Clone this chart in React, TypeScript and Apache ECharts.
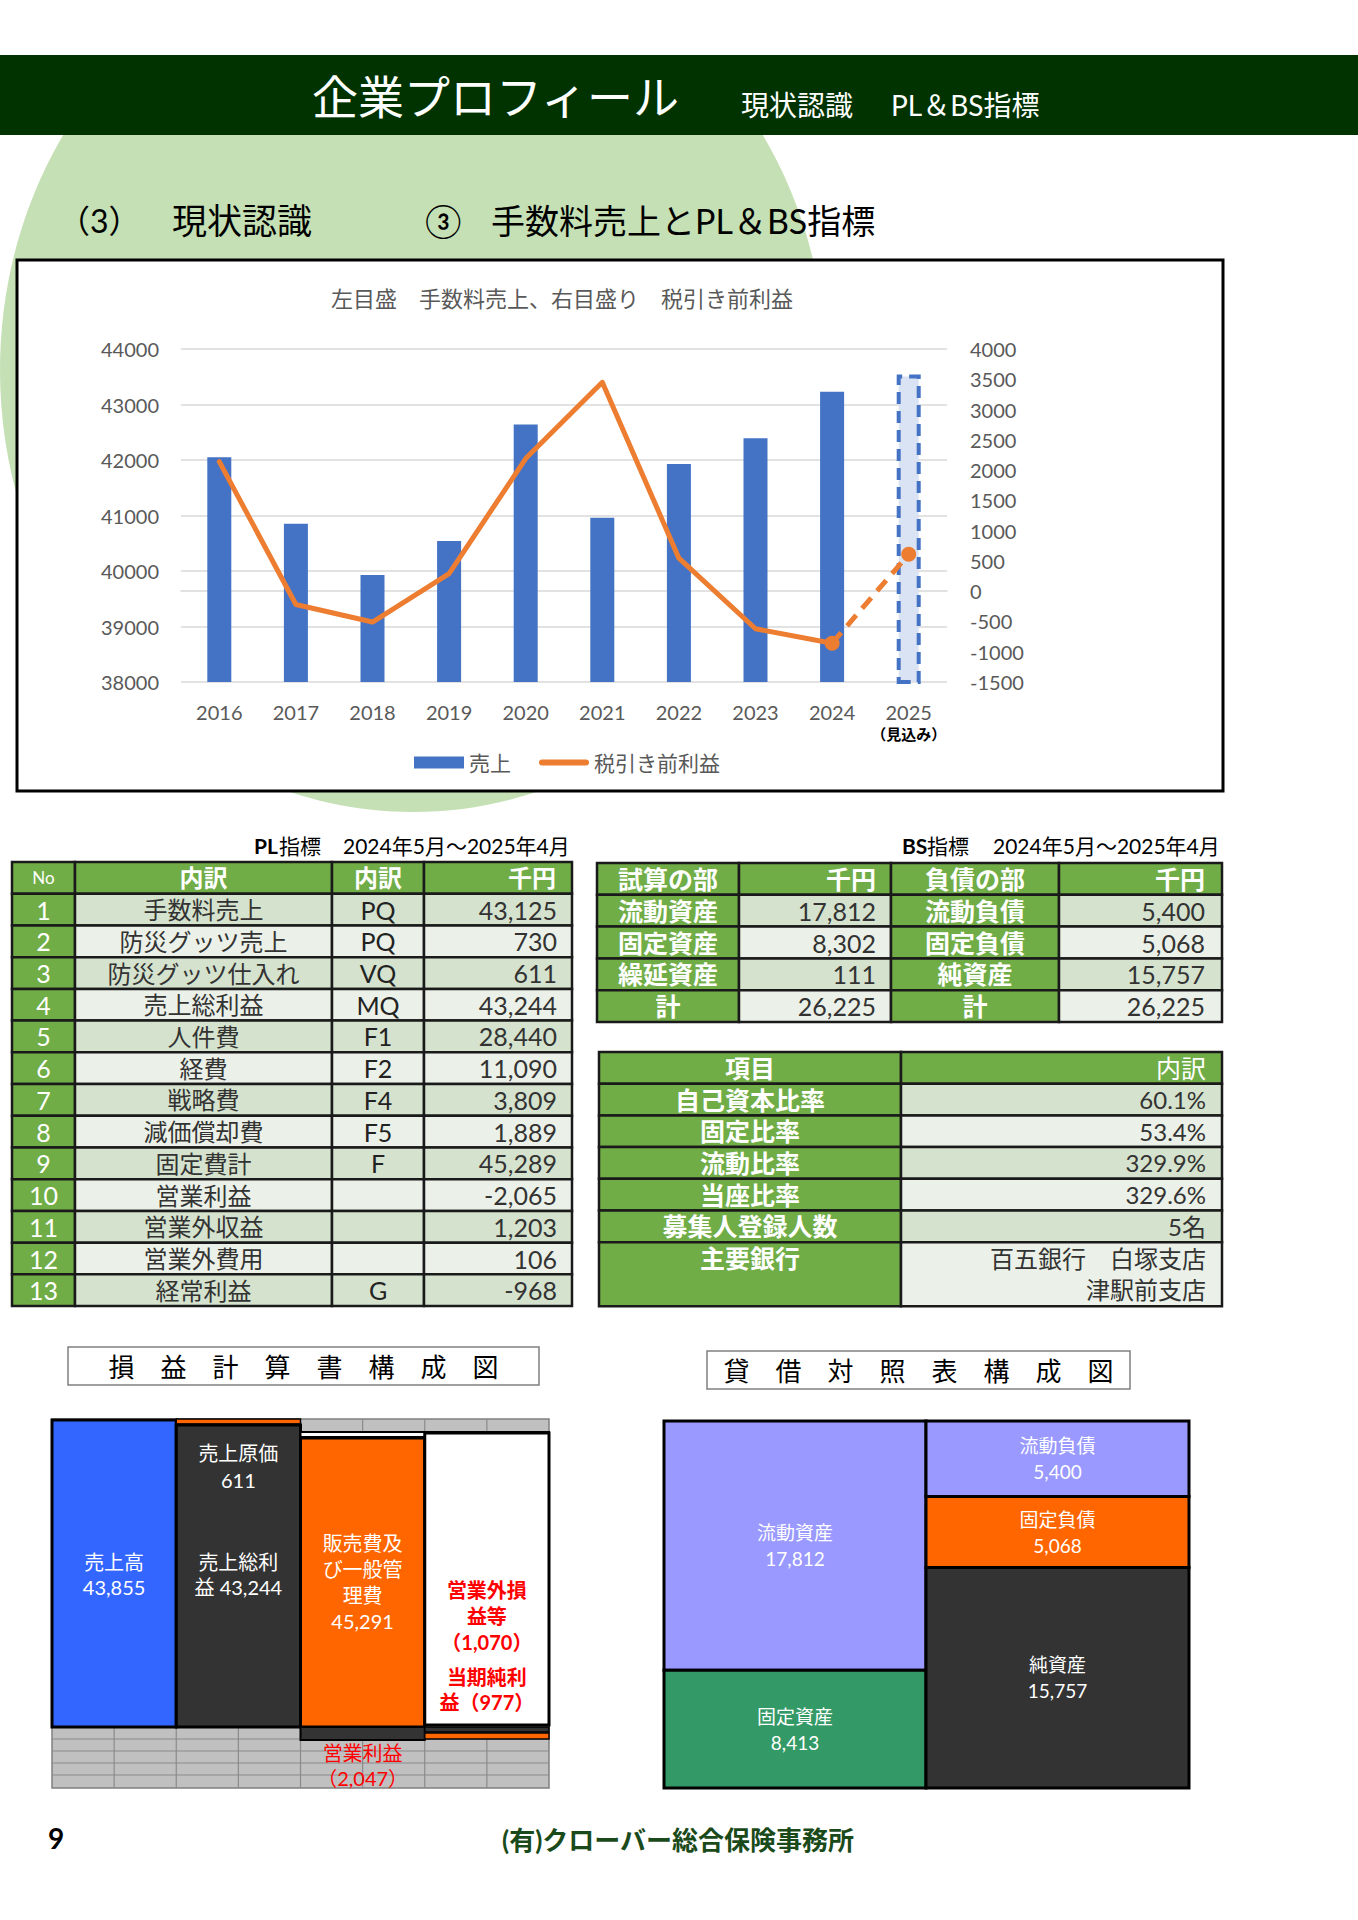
import React, { useEffect, useRef } from 'react';
import * as echarts from 'echarts';

const JP = 'Lato, "Noto Sans CJK JP", sans-serif';

// ---------- chart data ----------
const years = ['2016', '2017', '2018', '2019', '2020', '2021', '2022', '2023', '2024', '2025'];
const forecastNote = '（見込み）';
const sales = [42050, 40850, 39930, 40540, 42640, 40960, 41930, 42390, 43230, 43540];
const profit = [2140, -220, -510, 290, 2190, 3450, 545, -620, -860, 610];
const chartTitle = '左目盛　手数料売上、右目盛り　税引き前利益';
const salesName = '売上';
const profitName = '税引き前利益';
const leftMin = 38000, leftMax = 44000, leftStep = 1000;
const rightMin = -1500, rightMax = 4000, rightStep = 500;

// ---------- PL table ----------
const plHeader = ['No', '内訳', '内訳', '千円'];
const plItems = ['手数料売上', '防災グッツ売上', '防災グッツ仕入れ', '売上総利益', '人件費', '経費', '戦略費', '減価償却費', '固定費計', '営業利益', '営業外収益', '営業外費用', '経常利益'];
const plCodes = ['PQ', 'PQ', 'VQ', 'MQ', 'F1', 'F2', 'F4', 'F5', 'F', '', '', '', 'G'];
const plValues = [43125, 730, 611, 43244, 28440, 11090, 3809, 1889, 45289, -2065, 1203, 106, -968];

// ---------- BS table ----------
const bsHeader = ['試算の部', '千円', '負債の部', '千円'];
const bsAssetLabels = ['流動資産', '固定資産', '繰延資産', '計'];
const bsAssetValues = [17812, 8302, 111, 26225];
const bsLiabLabels = ['流動負債', '固定負債', '純資産', '計'];
const bsLiabValues = [5400, 5068, 15757, 26225];
const ratioHeader = ['項目', '内訳'];
const ratioLabels = ['自己資本比率', '固定比率', '流動比率', '当座比率', '募集人登録人数', '主要銀行'];
const ratioValues = [['60.1%'], ['53.4%'], ['329.9%'], ['329.6%'], ['5名'], ['百五銀行　白塚支店', '津駅前支店']];

// ---------- diagrams ----------
const plDiagTitle = '損　益　計　算　書　構　成　図';
const plDiagSales = ['売上高', '43,855'];
const plDiagCost = ['売上原価', '611'];
const plDiagGross = ['売上総利', '益 43,244'];
const plDiagSga = ['販売費及', 'び一般管', '理費', '45,291'];
const plDiagNonOp = ['営業外損', '益等', '（1,070）'];
const plDiagNet = ['当期純利', '益（977）'];
const plDiagOp = ['営業利益', '（2,047）'];

const bsDiagTitle = '貸　借　対　照　表　構　成　図';
const bsDiagLeftNames = ['流動資産', '固定資産'];
const bsDiagLeftValues = [17812, 8413];
const bsDiagRightNames = ['流動負債', '固定負債', '純資産'];
const bsDiagRightValues = [5400, 5068, 15757];

const pageTitle = '企業プロフィール';
const pageSub1 = '現状認識';
const pageSub2 = 'PL＆BS指標';
const secNo = '（3）';
const secName = '現状認識';
const secCircle = '③';
const secTitle = '手数料売上とPL＆BS指標';
const plTitleBold = 'PL';
const bsTitleBold = 'BS';
const idxWord = '指標';
const period = '2024年5月～2025年4月';
const pageNo = '9';
const company = '(有)クローバー総合保険事務所';

const fmt = (v: number) => v.toLocaleString('en-US');

function txt(x: number, y: number, text: string, size: number, fill: string, o: any = {}) {
  const weight = o.bold ? 'bold' : 'normal';
  const align = o.align || 'left';
  const style: any = {
    text, fill, fontSize: size, fontFamily: JP, fontWeight: weight,
    font: `${weight} ${size}px ${JP}`,
    align, textAlign: align, verticalAlign: 'middle', textVerticalAlign: 'middle',
  };
  if (o.lh) style.lineHeight = o.lh;
  return { type: 'text', x, y, z: o.z ?? 5, silent: true, style };
}

// multi-line text block: first line centre at y, line pitch lh
function block(x: number, y: number, lines: string[], size: number, fill: string, lh: number, o: any = {}) {
  const cy = y + ((lines.length - 1) * lh) / 2;
  return txt(x, cy, lines.join('\n'), size, fill, { ...o, lh });
}

function box(x: number, y: number, w: number, h: number, fill: string, stroke?: string, lw?: number, z?: number) {
  const style: any = { fill };
  if (stroke) { style.stroke = stroke; style.lineWidth = lw || 1; }
  return { type: 'rect', z: z ?? 1, silent: true, shape: { x, y, width: w, height: h }, style };
}

function line(x1: number, y1: number, x2: number, y2: number, stroke: string, lw: number, z = 1) {
  return { type: 'line', z, silent: true, shape: { x1, y1, x2, y2 }, style: { stroke, lineWidth: lw } };
}

const G = '#70AD47';
const C1 = '#D5E3CE';
const C2 = '#EBF1E8';
const BD = '#1a1a1a';
const TX = '#333333';

function buildGraphics() {
  const g: any[] = [];
  // background ellipse & header
  g.push({ type: 'ellipse', z: -10, silent: true, shape: { cx: 413, cy: 370, rx: 413, ry: 442 }, style: { fill: '#C5E0B4' } });
  g.push(box(0, 0, 1358, 55, '#ffffff', undefined, 0, -6));
  g.push(box(0, 55, 1358, 80, '#003300', undefined, 0, -5));
  g.push(txt(312, 96, pageTitle, 46, '#ffffff'));
  g.push(txt(741, 105, pageSub1, 28, '#ffffff'));
  g.push(txt(891, 105, pageSub2, 28, '#ffffff'));
  // section heading
  g.push(txt(58, 220, secNo, 32, '#000'));
  g.push(txt(172, 220, secName, 35, '#000'));
  g.push(txt(425, 220, secCircle, 33, '#000'));
  g.push(txt(491, 220, secTitle, 34, '#000'));
  // chart box
  g.push(box(17, 260, 1206, 531, '#ffffff', '#000', 3, -9));
  g.push(txt(562, 298, chartTitle, 22, '#595959', { align: 'center' }));

  // ---------- PL table ----------
  g.push(txt(254, 845, plTitleBold, 21, '#000', { bold: true }));
  g.push(txt(279, 845, idxWord, 21, '#000'));
  g.push(txt(343, 845, period, 21, '#000'));
  const px = [12, 75, 332, 424, 572];
  const ptop = 862, prh = 31.72;
  for (let c = 0; c < 4; c++) g.push(box(px[c], ptop, px[c + 1] - px[c], prh, G, BD, 2.5));
  const hy = ptop + prh / 2;
  g.push(txt((px[0] + px[1]) / 2, hy, plHeader[0], 17, '#fff', { align: 'center' }));
  g.push(txt((px[1] + px[2]) / 2, hy, plHeader[1], 24, '#fff', { align: 'center', bold: true }));
  g.push(txt((px[2] + px[3]) / 2, hy, plHeader[2], 24, '#fff', { align: 'center', bold: true }));
  g.push(txt(px[4] - 16, hy, plHeader[3], 24, '#fff', { align: 'right', bold: true }));
  plItems.forEach((item, i) => {
    const y = ptop + (i + 1) * prh;
    const bg = i % 2 === 0 ? C1 : C2;
    g.push(box(px[0], y, px[1] - px[0], prh, G, BD, 2.5));
    for (let c = 1; c < 4; c++) g.push(box(px[c], y, px[c + 1] - px[c], prh, bg, BD, 2.5));
    const cy = y + prh / 2;
    g.push(txt((px[0] + px[1]) / 2, cy, String(i + 1), 25, '#fff', { align: 'center' }));
    g.push(txt((px[1] + px[2]) / 2, cy, item, 24, TX, { align: 'center' }));
    if (plCodes[i]) g.push(txt((px[2] + px[3]) / 2, cy, plCodes[i], 25, '#222', { align: 'center' }));
    g.push(txt(px[4] - 15, cy, fmt(plValues[i]), 25, TX, { align: 'right' }));
  });

  // ---------- BS table 1 ----------
  g.push(txt(902, 845, bsTitleBold, 21, '#000', { bold: true }));
  g.push(txt(927, 845, idxWord, 21, '#000'));
  g.push(txt(993, 845, period, 21, '#000'));
  const bx = [597, 739, 891, 1059, 1222];
  const btop = 863, brh = 31.8;
  for (let c = 0; c < 4; c++) g.push(box(bx[c], btop, bx[c + 1] - bx[c], brh, G, BD, 2.5));
  const bhy = btop + brh / 2;
  g.push(txt((bx[0] + bx[1]) / 2, bhy, bsHeader[0], 25, '#fff', { align: 'center', bold: true }));
  g.push(txt(bx[2] - 15, bhy, bsHeader[1], 25, '#fff', { align: 'right', bold: true }));
  g.push(txt((bx[2] + bx[3]) / 2, bhy, bsHeader[2], 25, '#fff', { align: 'center', bold: true }));
  g.push(txt(bx[4] - 17, bhy, bsHeader[3], 25, '#fff', { align: 'right', bold: true }));
  bsAssetLabels.forEach((lab, i) => {
    const y = btop + (i + 1) * brh;
    const bg = i % 2 === 0 ? C1 : C2;
    g.push(box(bx[0], y, bx[1] - bx[0], brh, G, BD, 2.5));
    g.push(box(bx[1], y, bx[2] - bx[1], brh, bg, BD, 2.5));
    g.push(box(bx[2], y, bx[3] - bx[2], brh, G, BD, 2.5));
    g.push(box(bx[3], y, bx[4] - bx[3], brh, bg, BD, 2.5));
    const cy = y + brh / 2;
    g.push(txt((bx[0] + bx[1]) / 2, cy, lab, 25, '#fff', { align: 'center', bold: true }));
    g.push(txt(bx[2] - 15, cy, fmt(bsAssetValues[i]), 25, TX, { align: 'right' }));
    g.push(txt((bx[2] + bx[3]) / 2, cy, bsLiabLabels[i], 25, '#fff', { align: 'center', bold: true }));
    g.push(txt(bx[4] - 17, cy, fmt(bsLiabValues[i]), 25, TX, { align: 'right' }));
  });

  // ---------- BS table 2 ----------
  const rx = [599, 901, 1222];
  const rtop = 1052, rrh = 31.7;
  g.push(box(rx[0], rtop, rx[1] - rx[0], rrh, G, BD, 2.5));
  g.push(box(rx[1], rtop, rx[2] - rx[1], rrh, G, BD, 2.5));
  g.push(txt((rx[0] + rx[1]) / 2, rtop + rrh / 2, ratioHeader[0], 25, '#fff', { align: 'center', bold: true }));
  g.push(txt(rx[2] - 16, rtop + rrh / 2, ratioHeader[1], 25, '#fff', { align: 'right' }));
  let ry = rtop + rrh;
  ratioLabels.forEach((lab, i) => {
    const lines = ratioValues[i];
    const h = lines.length > 1 ? 64 : rrh;
    const bg = i % 2 === 0 ? C1 : C2;
    g.push(box(rx[0], ry, rx[1] - rx[0], h, G, BD, 2.5));
    g.push(box(rx[1], ry, rx[2] - rx[1], h, bg, BD, 2.5));
    g.push(txt((rx[0] + rx[1]) / 2, ry + rrh / 2, lab, 25, '#fff', { align: 'center', bold: true }));
    g.push(block(rx[2] - 16, ry + rrh / 2, lines, 24, TX, 31, { align: 'right' }));
    ry += h;
  });

  // ---------- PL diagram ----------
  g.push(box(68, 1347, 471, 38, '#fff', '#808080', 1.5));
  g.push(txt(303.5, 1367, plDiagTitle, 26, '#000', { align: 'center' }));
  const dx0 = 52, dx1 = 549, dy0 = 1419, dy1 = 1788;
  const cw = (dx1 - dx0) / 4;
  const colX = [0, 1, 2, 3, 4].map((k) => dx0 + k * cw);
  g.push(box(dx0, dy0, dx1 - dx0, dy1 - dy0, '#C0C0C0', '#808080', 1.5));
  for (let k = 1; k < 8; k++) {
    const x = dx0 + (k * cw) / 2;
    g.push(line(x, 1727, x, dy1, '#8a8a8a', 1.2));
    if (k > 4) g.push(line(x, dy0, x, 1433, '#8a8a8a', 1.2));
  }
  [1739, 1751, 1763, 1775].forEach((y) => g.push(line(dx0, y, dx1, y, '#8a8a8a', 1.2)));
  // col1
  g.push(box(colX[0], 1420, cw, 307, '#3366FF', '#000', 3, 2));
  // col2
  g.push(box(colX[1], 1419, cw, 5, '#FF6600', '#000', 1.5, 2));
  g.push(box(colX[1], 1425, cw, 302, '#333333', '#000', 3, 2));
  // col3
  g.push(box(colX[2], 1432, cw * 2, 5, '#ffffff', '#000', 2, 2));
  g.push(box(colX[2], 1438, cw, 289, '#FF6600', '#000', 3, 2));
  g.push(box(colX[2], 1727, cw, 13, '#333333', '#000', 2, 2));
  // col4
  g.push(box(colX[3], 1433, cw, 292, '#ffffff', '#000', 3, 2));
  g.push(box(colX[3], 1727, cw, 5, '#333333', '#000', 1.5, 2));
  g.push(box(colX[3], 1733, cw, 6, '#FF6600', '#000', 1.5, 2));
  const ccx = (k: number) => colX[k] + cw / 2;
  g.push(block(ccx(0), 1562, plDiagSales, 20, '#fff', 25, { align: 'center' }));
  g.push(block(ccx(1), 1453, plDiagCost, 20, '#fff', 27, { align: 'center' }));
  g.push(block(ccx(1), 1562, plDiagGross, 20, '#fff', 25, { align: 'center' }));
  g.push(block(ccx(2), 1543, plDiagSga, 20, '#fff', 26, { align: 'center' }));
  g.push(block(ccx(3), 1590, plDiagNonOp, 20, '#FF0000', 26, { align: 'center', bold: true }));
  g.push(block(ccx(3), 1677, plDiagNet, 20, '#FF0000', 25, { align: 'center', bold: true }));
  g.push(block(ccx(2), 1753, plDiagOp, 20, '#FF0000', 25, { align: 'center' }));

  // ---------- BS diagram ----------
  g.push(box(707, 1351, 423, 38, '#fff', '#808080', 1.5));
  g.push(txt(918.5, 1371, bsDiagTitle, 26, '#000', { align: 'center' }));
  const ex0 = 664, exm = 926, ex1 = 1189, ey0 = 1421, ey1 = 1788;
  const eh = ey1 - ey0;
  const drawSide = (names: string[], values: number[], colors: string[], xa: number, xb: number) => {
    const tot = values.reduce((a, b) => a + b, 0);
    let y = ey0;
    values.forEach((v, i) => {
      const h = (v / tot) * eh;
      g.push(box(xa, y, xb - xa, h, colors[i], '#000', 3, 2));
      const cy = y + h / 2;
      g.push(block((xa + xb) / 2, cy - 13, [names[i], fmt(v)], 19, '#fff', 26, { align: 'center' }));
      y += h;
    });
  };
  drawSide(bsDiagLeftNames, bsDiagLeftValues, ['#9999FF', '#339966'], ex0, exm);
  drawSide(bsDiagRightNames, bsDiagRightValues, ['#9999FF', '#FF6600', '#333333'], exm, ex1);

  // footer
  g.push(txt(48, 1838, pageNo, 28, '#000', { bold: true }));
  g.push(txt(502, 1840, company, 26, '#1a4a1a', { bold: true }));
  return g;
}

export default function App() {
  const ref = useRef<HTMLDivElement>(null);
  useEffect(() => {
    document.body.style.margin = '0';
    const chart = echarts.init(ref.current!, null, { renderer: 'svg' });
    const last = years.length - 1;
    const axisText = { color: '#595959', fontSize: 20, fontFamily: JP };
    chart.setOption({
      animation: false,
      backgroundColor: '#ffffff',
      textStyle: { fontFamily: JP },
      graphic: { elements: buildGraphics() },
      grid: { left: 181, top: 349, width: 766, height: 333, containLabel: false, outerBoundsMode: 'none' },
      legend: {
        left: 409, top: 747, itemWidth: 50, itemHeight: 12, itemGap: 28,
        data: [
          { name: salesName, icon: 'rect' },
          { name: profitName, icon: 'path://M3,0 L47,0 A3,3 0 0 1 47,6 L3,6 A3,3 0 0 1 3,0 Z' },
        ],
        textStyle: { color: '#595959', fontSize: 21, fontFamily: JP },
      },
      xAxis: {
        type: 'category', data: years,
        axisTick: { show: false },
        axisLine: { lineStyle: { color: '#D9D9D9', width: 1.5 } },
        axisLabel: {
          ...axisText, margin: 18, interval: 0, lineHeight: 24,
          formatter: (v: string) => (v === years[last] ? `${v}\n{b|${forecastNote}}` : v),
          rich: { b: { fontSize: 15, fontWeight: 'bold', color: '#000', fontFamily: JP, lineHeight: 19 } },
        },
      },
      yAxis: [
        {
          type: 'value', min: leftMin, max: leftMax, interval: leftStep, position: 'left',
          axisLabel: { ...axisText, margin: 22, formatter: (v: number) => String(v) },
          axisLine: { show: false }, axisTick: { show: false },
          splitLine: { lineStyle: { color: '#D9D9D9', width: 1.5 } },
        },
        {
          type: 'value', min: rightMin, max: rightMax, interval: rightStep, position: 'right',
          axisLabel: { ...axisText, margin: 23, formatter: (v: number) => String(v) },
          axisLine: { show: false }, axisTick: { show: false },
          splitLine: { show: false },
        },
      ],
      series: [
        {
          name: salesName, type: 'bar', yAxisIndex: 0, barWidth: 24,
          itemStyle: { color: '#4472C4' },
          data: sales.map((v, i) =>
            i === last
              ? { value: v, itemStyle: { color: '#DAE3F3', borderColor: '#4472C4', borderWidth: 4, borderType: [12, 7] } }
              : v
          ),
        },
        {
          name: profitName, type: 'line', yAxisIndex: 1, symbol: 'none', z: 3,
          lineStyle: { color: '#ED7D31', width: 5, join: 'round', cap: 'round' },
          itemStyle: { color: '#ED7D31' },
          data: profit.map((v, i) => (i < last ? v : '-')),
        },
        {
          name: profitName + forecastNote, type: 'line', yAxisIndex: 1, symbol: 'circle', symbolSize: 15, z: 4,
          lineStyle: { color: '#ED7D31', width: 5, type: [14, 9] },
          itemStyle: { color: '#ED7D31' },
          data: profit.map((v, i) => (i >= last - 1 ? v : '-')),
        },
      ],
    });
    return () => chart.dispose();
  }, []);
  return <div ref={ref} style={{ width: 1358, height: 1920 }} />;
}
